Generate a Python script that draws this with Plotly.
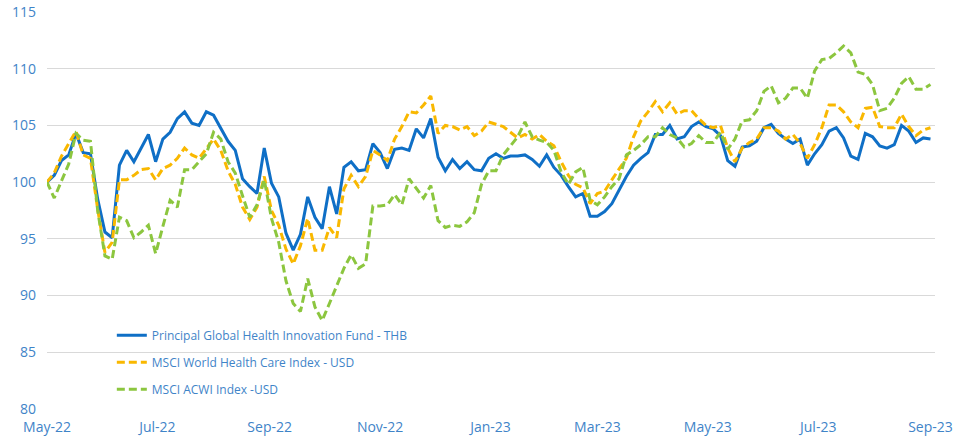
import pandas as pd
import plotly.graph_objects as go

# Dates (every 4 calendar days)
dates = pd.date_range("2022-05-01", periods=123, freq="4D")

fund_thb = [
    100.0, 100.6, 101.9, 102.4, 104.3, 102.6, 102.5, 98.5, 95.6, 95.1,
    101.5, 102.8, 101.8, 103.0, 104.2, 101.8, 103.8, 104.4, 105.6, 106.2,
    105.2, 105.0, 106.2, 105.9, 104.8, 103.6, 102.8, 100.3, 99.6, 99.0,
    103.0, 99.9, 98.7, 95.5, 94.0, 95.4, 98.7, 96.9, 95.9, 99.6,
    97.2, 101.3, 101.8, 101.0, 101.1, 103.4, 102.6, 101.2, 102.9, 103.0,
    102.8, 104.7, 103.9, 105.6, 102.2, 101.0, 102.0, 101.2, 101.8, 101.1,
    101.0, 102.1, 102.5, 102.1, 102.3, 102.3, 102.4, 102.0, 101.4, 102.4,
    101.3, 100.6, 99.6, 98.7, 99.0, 97.0, 97.0, 97.4, 98.1, 99.3,
    100.5, 101.5, 102.1, 102.6, 104.2, 104.2, 105.0, 103.8, 104.0, 104.9,
    105.3, 104.9, 104.7, 104.1, 101.9, 101.4, 103.1, 103.2, 103.6, 104.8,
    105.1, 104.3, 103.8, 103.4, 103.8, 101.5, 102.5, 103.3, 104.5, 104.8,
    103.9, 102.3, 102.0, 104.3, 104.0, 103.2, 103.0, 103.3, 105.0, 104.5,
    103.5, 103.9, 103.8,
]

msci_health_usd = [
    100.0, 100.8, 102.3, 103.4, 104.5, 102.4, 102.1, 97.6, 93.8, 94.7,
    100.2, 100.2, 100.6, 101.1, 101.2, 100.2, 101.2, 101.5, 102.1, 103.0,
    102.4, 102.1, 102.9, 103.8, 102.8, 101.0, 99.8, 97.8, 96.7, 97.8,
    100.5, 97.5, 96.2, 94.1, 92.8, 94.4, 96.8, 94.0, 94.0, 96.0,
    95.1, 99.4, 100.6, 99.6, 100.5, 102.8, 102.4, 101.9, 103.8, 104.9,
    106.2, 106.1, 106.8, 107.6, 104.3, 105.0, 104.9, 104.6, 104.9, 104.1,
    104.5, 105.3, 105.1, 104.9, 104.4, 103.9, 104.2, 103.8, 104.2, 103.6,
    103.2, 101.8, 100.6, 99.8, 99.5, 98.1, 99.0, 99.2, 100.2, 101.2,
    102.1, 104.0, 105.4, 106.2, 107.1, 106.2, 107.0, 106.0, 106.3, 106.3,
    105.6, 105.0, 104.8, 105.0, 103.0, 101.8, 103.0, 103.5, 103.8, 104.8,
    104.8, 104.5, 103.8, 104.2, 103.4, 102.1, 103.3, 104.8, 106.8, 106.8,
    106.2, 105.3, 104.8, 106.5, 106.6, 104.9, 104.8, 104.8, 106.0, 104.9,
    104.1, 104.6, 104.8,
]

msci_acwi_usd = [
    100.0, 98.6, 100.1, 101.6, 104.3, 103.7, 103.6, 97.5, 93.5, 93.2,
    96.9, 96.6, 95.1, 95.6, 96.2, 93.7, 96.1, 98.4, 97.8, 101.1,
    101.1, 101.8, 102.5, 104.4, 103.8, 101.8, 100.8, 98.8, 96.9, 98.0,
    100.2, 96.8, 94.7, 91.3, 89.3, 88.6, 91.5, 89.0, 87.8, 89.3,
    90.8, 92.4, 93.6, 92.4, 92.8, 97.9, 97.9, 98.0, 98.9, 98.0,
    100.3, 99.4, 98.6, 99.7, 96.6, 96.0, 96.2, 96.1, 96.5, 97.3,
    99.8, 101.0, 101.0, 102.4, 103.2, 104.0, 105.3, 104.0, 103.7, 103.5,
    102.8, 100.9, 99.8, 100.9, 101.3, 98.4, 98.0, 98.7, 99.6, 100.3,
    102.4, 102.8, 103.3, 104.0, 104.0, 104.8, 104.2, 103.9, 103.1, 103.4,
    104.1, 103.5, 103.5, 104.4, 102.9, 103.8, 105.4, 105.5, 106.3, 108.0,
    108.5, 107.0, 107.4, 108.3, 108.3, 107.4, 109.8, 110.8, 110.9, 111.4,
    112.0, 111.4, 109.7, 109.5, 108.6, 106.3, 106.5, 107.4, 108.7, 109.3,
    108.2, 108.2, 108.6,
]

series_names = [
    "Principal Global Health Innovation Fund - THB",
    "MSCI World Health Care Index - USD",
    "MSCI ACWI Index -USD",
]
y_ticks = [80, 85, 90, 95, 100, 105, 110, 115]

BLUE = "#0f6fc6"
GOLD = "#f9b800"
GREEN = "#8cc63f"
TXT = "#3f84c8"

fig = go.Figure()
fig.add_trace(go.Scatter(x=dates, y=fund_thb, name=series_names[0], mode="lines",
                         line=dict(color=BLUE, width=3), legendgroup="a"))
fig.add_trace(go.Scatter(x=dates, y=msci_health_usd, name=series_names[1], mode="lines",
                         line=dict(color=GOLD, width=3, dash="8px,4px"), legendgroup="b"))
fig.add_trace(go.Scatter(x=dates, y=msci_acwi_usd, name=series_names[2], mode="lines",
                         line=dict(color=GREEN, width=3, dash="8px,4px"), legendgroup="c"))

fig.update_layout(
    width=953, height=437,
    margin=dict(l=47, r=18, t=12, b=28, autoexpand=False),
    paper_bgcolor="white", plot_bgcolor="white",
    font=dict(family="Open Sans, sans-serif", size=14, color=TXT),
    showlegend=True,
    legend=dict(x=0.073, y=0.222, xanchor="left", yanchor="top",
                bgcolor="rgba(0,0,0,0)", font=dict(size=12, color=TXT),
                tracegroupgap=8, traceorder="grouped"),
)
fig.update_xaxes(
    type="date", range=["2022-05-01", "2023-09-03 12:00"],
    tick0="2022-05-01", dtick="M2", tickformat="%b-%y",
    showgrid=False, zeroline=False, showline=False, ticks="",
    automargin=False, ticklabelstandoff=8,
    tickfont=dict(size=14, color=TXT),
)
fig.update_yaxes(
    range=[80, 115], tickvals=y_ticks, showgrid=True, gridcolor="#d9d9d9",
    gridwidth=1, zeroline=False, showline=False, ticks="",
    automargin=False, ticklabelstandoff=10, tickfont=dict(size=14, color=TXT),
)

fig.write_html(
    "out.html",
    config={"displayModeBar": False},
    post_script="document.body.style.margin='0';document.body.style.overflow='hidden';",
)
